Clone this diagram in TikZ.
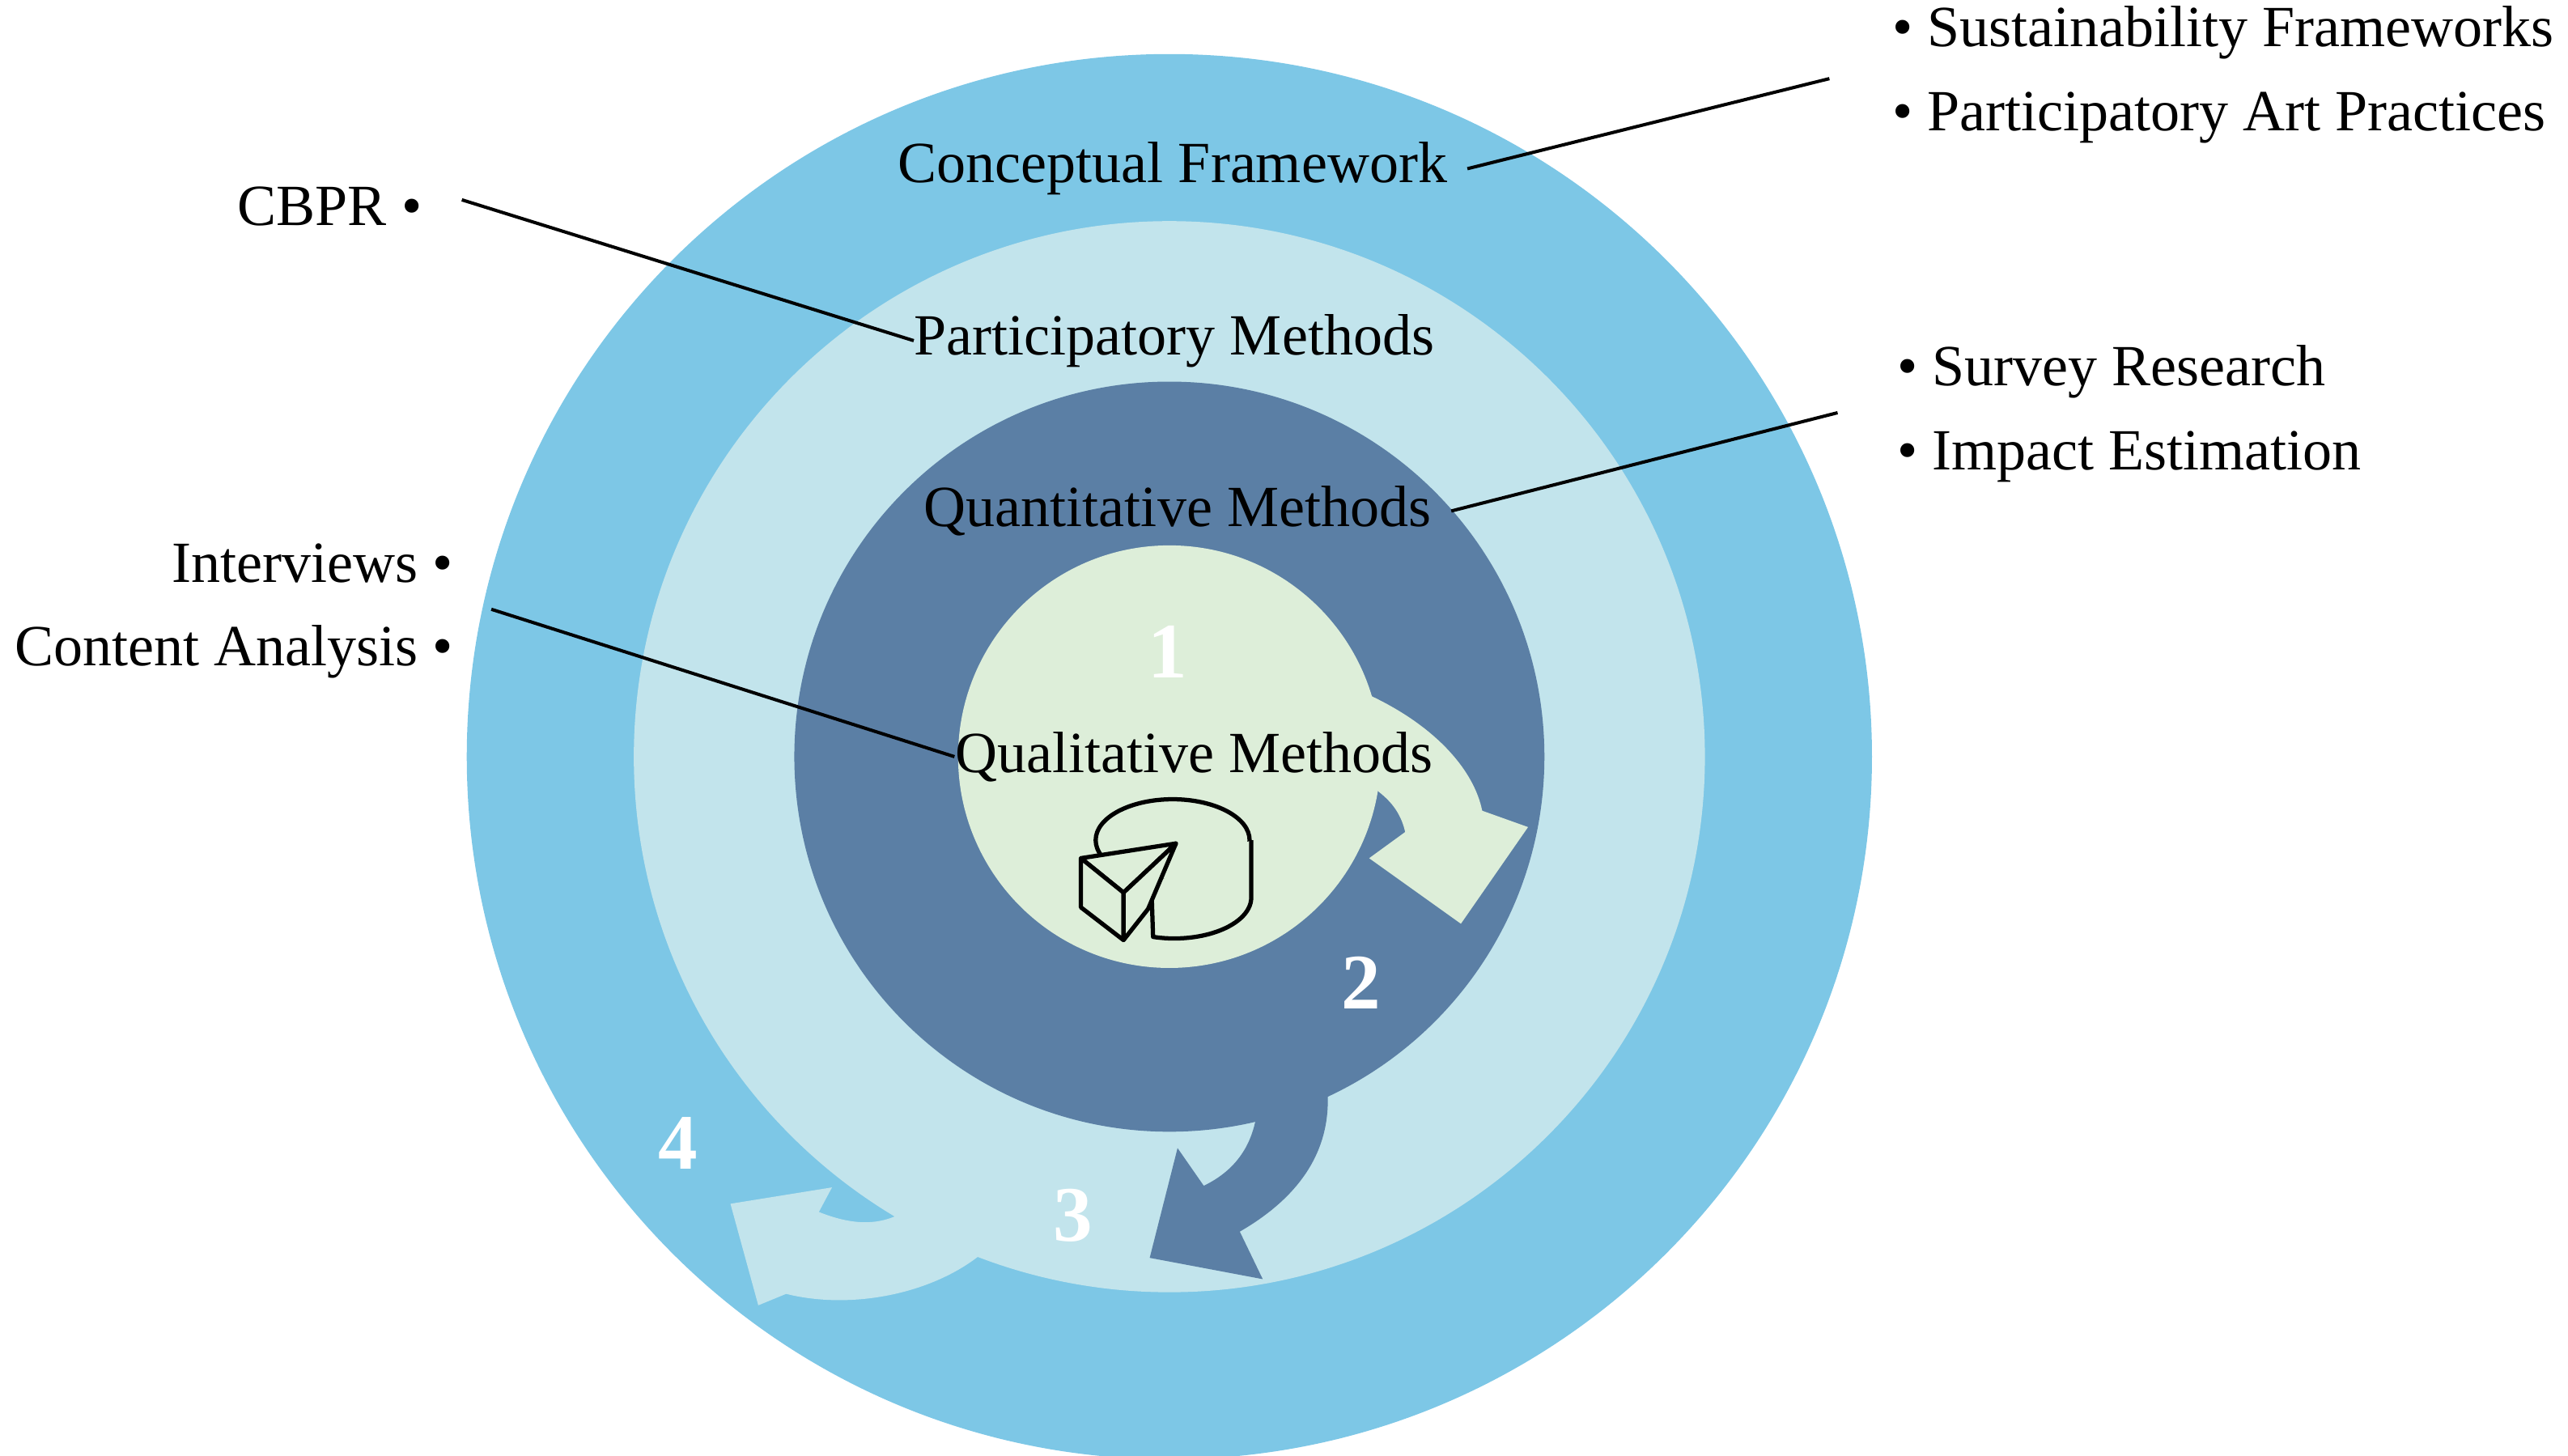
\documentclass[tikz,border=0pt]{standalone}
\usepackage{fontspec}
\setmainfont{Liberation Serif}
\definecolor{ringA}{HTML}{7DC7E6}
\definecolor{ringB}{HTML}{C2E4EC}
\definecolor{ringC}{HTML}{5B7FA5}
\definecolor{ringD}{HTML}{DDEED9}
\begin{document}
\begin{tikzpicture}[x=0.5pt,y=-0.5pt,
  lbl/.style={font=\fontsize{17.8}{20}\selectfont,inner sep=0pt},
  num/.style={font=\fontsize{24}{26}\selectfont\bfseries,text=white,inner sep=0pt},
  lead/.style={line width=1pt,black},
  pie/.style={line width=1.3pt,black,fill=ringD,line join=round}]
\useasboundingbox (0,0) rectangle (1568,889);
\coordinate (c) at (714,462);
\fill[ringA] (c) circle (429);
\fill[ringB] (c) circle (327);
\fill[ringC] (c) circle (229);
% arrow 3 -> 4
\fill[ringB] (600,765) .. controls (570,790) and (520,800) .. (480,790) -- (463,797) -- (446,735) -- (508,725) -- (500,740) .. controls (520,748) and (535,748) .. (548,742) -- cycle;
% arrow 2 -> 3
\fill[ringC] (810,660) .. controls (815,700) and (795,730) .. (757,752) -- (771,781) -- (702,768) -- (719,701) -- (735,724) .. controls (760,712) and (770,690) .. (768,660) -- cycle;
% inner circle and arrow 1 -> 2
\fill[ringD] (c) circle (129);
\fill[ringD] (826,420) .. controls (875,440) and (900,470) .. (905,495) -- (933,505) -- (892,564) -- (836,524) -- (858,508) .. controls (855,495) and (848,488) .. (840,482) -- cycle;
% pie icon
\draw[pie] (716,513) ellipse[x radius=47,y radius=25];
\draw[pie] (764,513) -- (764,548) arc[start angle=0,end angle=106,x radius=47,y radius=25] -- (703,540);
\draw[pie] (718,515) -- (703,540);
\draw[pie] (660,524) -- (718,515) -- (686,545) -- cycle;
\draw[pie] (660,524) -- (686,545) -- (686,574) -- (660,554) -- cycle;
\draw[pie] (686,545) -- (718,515) -- (701,555) -- (686,574) -- cycle;
% labels
\node[lbl] (cf) at (716,103) {Conceptual Framework};
\node[lbl] (pm) at (717,208) {Participatory Methods};
\node[lbl] (qm) at (719,312) {Quantitative Methods};
\node[lbl] (ql) at (729,462) {Qualitative Methods};
\node[num] (n1) at (713,398) {1};
\node[num] (n2) at (831,600) {2};
\node[num] (n3) at (655,742) {3};
\node[num] (n4) at (414,698) {4};
\node[lbl,anchor=west] (sf) at (1155,20) {\textbullet\ Sustainability Frameworks};
\node[lbl,anchor=west] (pa) at (1155,72) {\textbullet\ Participatory Art Practices};
\node[lbl,anchor=west] (sr) at (1158,227) {\textbullet\ Survey Research};
\node[lbl,anchor=west] (ie) at (1158,279) {\textbullet\ Impact Estimation};
\node[lbl,anchor=east] (cb) at (258,126) {CBPR \textbullet};
\node[lbl,anchor=east] (iv) at (277,344) {Interviews \textbullet};
\node[lbl,anchor=east] (ca) at (277,398) {Content Analysis \textbullet};
\coordinate (e1) at (1117,48);
\coordinate (e2) at (282,122);
\coordinate (e3) at (1122,252);
\coordinate (e4) at (300,372);
\draw[lead] (cf.east) ++(12,0) -- (e1);
\draw[lead] (e2) -- (pm.west);
\draw[lead] (qm.east) ++(12,0) -- (e3);
\draw[lead] (e4) -- (ql.west);
\end{tikzpicture}
\end{document}
